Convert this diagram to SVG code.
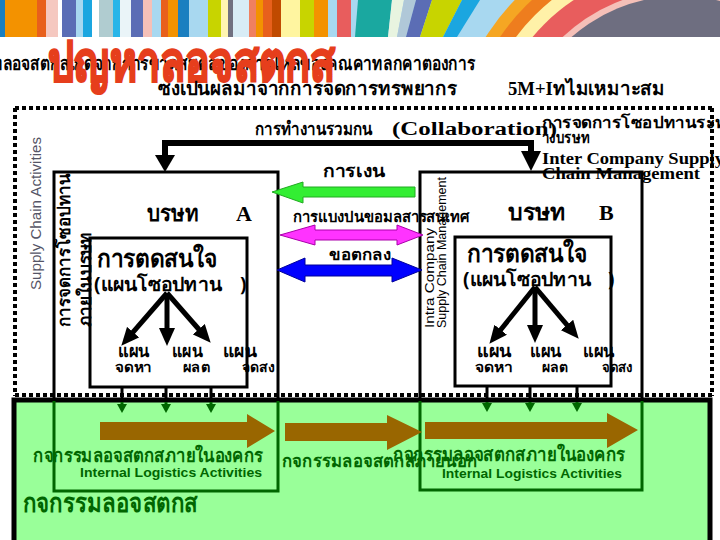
<svg xmlns="http://www.w3.org/2000/svg" width="720" height="540" viewBox="0 0 720 540">
<defs>
<style>
.th{font-family:'Noto Sans','DejaVu Sans',sans-serif;font-weight:bold;fill:#000}
.ser{font-family:'Liberation Serif','Times New Roman',serif;font-weight:bold;fill:#000}
.ar{font-family:'Liberation Sans',Arial,sans-serif}
.box{fill:none;stroke:#000;stroke-width:3}
.gbox{fill:none;stroke:#006600;stroke-width:3}
.gt{fill:#006600}
.fan{stroke:#000;stroke-width:5;fill:none;marker-end:url(#ah)}
.drop{stroke:#000;stroke-width:3}
.brown{fill:#996600}
.dots{stroke:#000;stroke-width:4;stroke-dasharray:4 3;fill:none}
</style>
<marker id="ah" viewBox="0 0 18 16" markerWidth="18" markerHeight="16" refX="7" refY="8" orient="auto" markerUnits="userSpaceOnUse">
<path d="M0,0 L18,8 L0,16 z" fill="#000"/>
</marker>
<clipPath id="bclip"><rect x="0" y="0" width="720" height="37"/></clipPath>
</defs>
<rect width="720" height="540" fill="#fff"/>

<g id="banner" clip-path="url(#bclip)">
<rect x="0" y="0" width="720" height="37" fill="#A8D8F0"/>
<rect x="0" y="0" width="5" height="37" fill="#1A7FC0"/>
<rect x="5" y="0" width="32" height="37" fill="#F39200"/>
<rect x="37" y="0" width="9" height="37" fill="#E8601C"/>
<rect x="46" y="0" width="12" height="37" fill="#F5C8C0"/>
<rect x="58" y="0" width="4" height="37" fill="#FFFFFF"/>
<rect x="62" y="0" width="14" height="37" fill="#5B6DB5"/>
<rect x="83" y="0" width="9" height="37" fill="#1BA6E0"/>
<rect x="92" y="0" width="7" height="37" fill="#FFFFFF"/>
<rect x="99" y="0" width="14" height="37" fill="#B0CCD0"/>
<rect x="113" y="0" width="7" height="37" fill="#29B5E8"/>
<rect x="120" y="0" width="11" height="37" fill="#EAF4F8"/>
<rect x="131" y="0" width="12" height="37" fill="#5B6DB5"/>
<rect x="143" y="0" width="9" height="37" fill="#F5C0B8"/>
<rect x="161" y="0" width="7" height="37" fill="#E8601C"/>
<rect x="168" y="0" width="10" height="37" fill="#F39200"/>
<rect x="178" y="0" width="11" height="37" fill="#1A7FC0"/>
<rect x="208" y="0" width="13" height="37" fill="#C8D400"/>
<rect x="221" y="0" width="7" height="37" fill="#FFF5B0"/>
<rect x="228" y="0" width="5" height="37" fill="#707080"/>
<rect x="233" y="0" width="16" height="37" fill="#D8ECF5"/>
<rect x="249" y="0" width="7" height="37" fill="#F08060"/>
<rect x="256" y="0" width="7" height="37" fill="#F39200"/>
<rect x="263" y="0" width="9" height="37" fill="#E8601C"/>
<rect x="272" y="0" width="9" height="37" fill="#C04A00"/>
<rect x="281" y="0" width="19" height="37" fill="#FFF5A0"/>
<rect x="300" y="0" width="14" height="37" fill="#C8D400"/>
<rect x="314" y="0" width="14" height="37" fill="#F39200"/>
<rect x="337" y="0" width="14" height="37" fill="#E85D5D"/>
<polygon points="355,37 388,37 392,0 358,0" fill="#1AA8A0"/>
<polygon points="388,37 397,37 404,0 392,0" fill="#E8F4E0"/>
<polygon points="397,37 406,37 416,0 404,0" fill="#B0C8D8"/>
<polygon points="406,37 420,37 432,0 416,0" fill="#5B6DB5"/>
<polygon points="420,37 443,37 462,0 432,0" fill="#C8D400"/>
<polygon points="443,37 457,37 480,0 462,0" fill="#1BA6E0"/>
<circle cx="680" cy="160" r="230" fill="#F5A623"/>
<circle cx="680" cy="160" r="218" fill="#EE7D1E"/>
<circle cx="680" cy="160" r="205" fill="#FFF1A8"/>
<circle cx="680" cy="160" r="192" fill="#E85D5D"/>
<circle cx="680" cy="160" r="170" fill="#F5C0B8"/>
<circle cx="680" cy="160" r="164" fill="#6E6E80"/>
</g>

<g id="heading">
<text class="th" x="-8" y="70" font-size="19" textLength="483" lengthAdjust="spacingAndGlyphs">ทลอจสตกสเกดจากการขาดสมดลของการไหลของคณคาทลกคาตองการ</text>
<text class="th" x="48" y="81" font-size="56" style="fill:#E63E1C" stroke="#E63E1C" stroke-width="2" textLength="287" lengthAdjust="spacingAndGlyphs">ปญหาลอจสตกส</text>
<text class="th" x="158" y="95" font-size="19" textLength="299" lengthAdjust="spacingAndGlyphs">ซงเปนผลมาจากการจดการทรพยากร</text>
<text class="th" x="508" y="95" font-size="19" textLength="157" lengthAdjust="spacingAndGlyphs"><tspan style="font-family:'Liberation Serif',serif">5M+I</tspan>ทไมเหมาะสม</text>
</g>

<g id="frame">
<line class="dots" x1="15" y1="108" x2="714" y2="108"/>
<line class="dots" x1="15" y1="108" x2="15" y2="396"/>
<line class="dots" x1="712" y1="108" x2="712" y2="396"/>
<line class="dots" x1="15" y1="395" x2="714" y2="395"/>
<rect x="14" y="400" width="696" height="150" fill="#99FF99" stroke="#000" stroke-width="5"/>
<text class="ar" x="0" y="0" font-size="14" fill="#555566" transform="translate(41,290) rotate(-90)" textLength="153" lengthAdjust="spacingAndGlyphs">Supply Chain Activities</text>
</g>

<g id="company-a">
<path class="box" d="M54,399 V172 H278 V399"/>
<path class="gbox" d="M54,401 V491 H278 V401"/>
<text class="th" font-size="17" transform="translate(70,327) rotate(-90)" textLength="154" lengthAdjust="spacingAndGlyphs">การจดการโซอปทาน</text>
<text class="th" font-size="17" transform="translate(91,327) rotate(-90)" textLength="94" lengthAdjust="spacingAndGlyphs">ภายในบรษท</text>
<text class="th" x="147" y="221" font-size="23" textLength="51" lengthAdjust="spacingAndGlyphs">บรษท</text>
<text class="ser" x="236" y="221" font-size="22">A</text>
<rect class="box" x="90" y="238" width="157" height="149"/>
<text class="th" x="97" y="267" font-size="25" textLength="121" lengthAdjust="spacingAndGlyphs">การตดสนใจ</text>
<text class="th" x="94" y="291" font-size="19"><tspan textLength="128" lengthAdjust="spacingAndGlyphs">(แผนโซอปทาน</tspan><tspan x="240">)</tspan></text>
<text class="th" x="118" y="357" font-size="17" textLength="32" lengthAdjust="spacingAndGlyphs">แผน</text>
<text class="th" x="115" y="372" font-size="14" textLength="37" lengthAdjust="spacingAndGlyphs">จดหา</text>
<text class="th" x="172" y="357" font-size="17" textLength="31" lengthAdjust="spacingAndGlyphs">แผน</text>
<text class="th" x="183" y="372" font-size="14" textLength="27" lengthAdjust="spacingAndGlyphs">ผลต</text>
<text class="th" x="223" y="357" font-size="17" textLength="34" lengthAdjust="spacingAndGlyphs">แผน</text>
<text class="th" x="242" y="372" font-size="14" textLength="33" lengthAdjust="spacingAndGlyphs">จดสง</text>
<text class="th gt" x="33" y="462" font-size="19" style="fill:#006600" textLength="230" lengthAdjust="spacingAndGlyphs">กจกรรมลอจสตกสภายในองคกร</text>
<text class="ar gt" x="80" y="477" font-size="13" font-weight="bold" textLength="182" lengthAdjust="spacingAndGlyphs">Internal Logistics Activities</text>
</g>

<g id="company-b">
<path class="box" d="M420,399 V172 H642 V399"/>
<path class="gbox" d="M420,401 V490 H642 V401"/>
<text class="ar" font-size="12" transform="translate(434,328) rotate(-90)" textLength="100" lengthAdjust="spacingAndGlyphs">Intra Company</text>
<text class="ar" font-size="12" transform="translate(446,328) rotate(-90)" textLength="151" lengthAdjust="spacingAndGlyphs">Supply Chain Management</text>
<text class="th" x="508" y="220" font-size="23" textLength="57" lengthAdjust="spacingAndGlyphs">บรษท</text>
<text class="ser" x="599" y="220" font-size="22">B</text>
<rect class="box" x="455" y="237" width="156" height="149"/>
<text class="th" x="467" y="262" font-size="25" textLength="121" lengthAdjust="spacingAndGlyphs">การตดสนใจ</text>
<text class="th" x="463" y="286" font-size="19"><tspan textLength="128" lengthAdjust="spacingAndGlyphs">(แผนโซอปทาน</tspan><tspan x="608">)</tspan></text>
<text class="th" x="477" y="357" font-size="17" textLength="35" lengthAdjust="spacingAndGlyphs">แผน</text>
<text class="th" x="475" y="372" font-size="14" textLength="38" lengthAdjust="spacingAndGlyphs">จดหา</text>
<text class="th" x="530" y="357" font-size="17" textLength="32" lengthAdjust="spacingAndGlyphs">แผน</text>
<text class="th" x="542" y="372" font-size="14" textLength="26" lengthAdjust="spacingAndGlyphs">ผลต</text>
<text class="th" x="583" y="357" font-size="17" textLength="32" lengthAdjust="spacingAndGlyphs">แผน</text>
<text class="th" x="602" y="372" font-size="14" textLength="31" lengthAdjust="spacingAndGlyphs">จดสง</text>
<text class="th gt" x="393" y="461" font-size="19" style="fill:#006600" textLength="232" lengthAdjust="spacingAndGlyphs">กจกรรมลอจสตกสภายในองคกร</text>
<text class="ar gt" x="442" y="478" font-size="13" font-weight="bold" textLength="180" lengthAdjust="spacingAndGlyphs">Internal Logistics Activities</text>
</g>

<g id="logistics-labels">
<text class="th gt" x="282" y="467" font-size="18" style="fill:#006600" textLength="195" lengthAdjust="spacingAndGlyphs">กจกรรมลอจสตกสภายนอก</text>
<text class="th gt" x="23" y="512" font-size="27" style="fill:#006600" textLength="174" lengthAdjust="spacingAndGlyphs">กจกรรมลอจสตกส</text>
</g>

<g id="connectors">
<path d="M165,155 V143 H531 V152" fill="none" stroke="#000" stroke-width="6"/>
<polygon points="155,155 175,155 165,172" fill="#000"/>
<polygon points="521,151 541,151 531,171" fill="#000"/>
<polygon points="272,192 303,182 303,187 415,187 415,197 303,197 303,203" fill="#33EE33" stroke="#22AA22" stroke-width="1"/>
<polygon points="280,235 315,225 315,230 397,230 397,225 423,235 397,245 397,240 315,240 315,245" fill="#FF33FF" stroke="#AA00AA" stroke-width="1"/>
<polygon points="277,270 305,258 305,265 392,265 392,258 422,270 392,282 392,276 305,276 305,282" fill="#0000FF" stroke="#000099" stroke-width="1"/>
<line class="fan" x1="167" y1="293" x2="128.5" y2="337.4"/>
<line class="fan" x1="167" y1="293" x2="167" y2="335"/>
<line class="fan" x1="167" y1="293" x2="203.4" y2="334.5"/>
<line class="fan" x1="535" y1="287" x2="496.3" y2="335.2"/>
<line class="fan" x1="535" y1="287" x2="535" y2="332"/>
<line class="fan" x1="535" y1="287" x2="571.6" y2="330.3"/>
<line class="drop" x1="122" y1="387" x2="122" y2="399"/>
<line class="drop" x1="166" y1="387" x2="166" y2="399"/>
<line class="drop" x1="211" y1="387" x2="211" y2="399"/>
<line class="drop" x1="487" y1="386" x2="487" y2="399"/>
<line class="drop" x1="530" y1="386" x2="530" y2="399"/>
<line class="drop" x1="577" y1="386" x2="577" y2="399"/>
<g stroke="#006600" stroke-width="3">
<line x1="122" y1="402" x2="122" y2="405"/>
<line x1="166" y1="402" x2="166" y2="405"/>
<line x1="211" y1="402" x2="211" y2="405"/>
<line x1="487" y1="402" x2="487" y2="405"/>
<line x1="530" y1="402" x2="530" y2="405"/>
<line x1="577" y1="402" x2="577" y2="405"/>
</g>
<g fill="#006600">
<polygon points="117,404 127,404 122,413"/>
<polygon points="161,404 171,404 166,413"/>
<polygon points="206,404 216,404 211,413"/>
<polygon points="482,403 492,403 487,412"/>
<polygon points="525,403 535,403 530,412"/>
<polygon points="572,403 582,403 577,412"/>
</g>
<polygon class="brown" points="100,422 247,422 247,414 275,431 247,448 247,440 100,440"/>
<polygon class="brown" points="285,423 387,423 387,415 422,432 387,450 387,441 285,441"/>
<polygon class="brown" points="425,422 607,422 607,413 638,430 607,448 607,439 425,439"/>
</g>

<g id="top-labels">
<text class="th" x="255" y="135" font-size="18" textLength="117" lengthAdjust="spacingAndGlyphs">การทำงานรวมกน</text>
<text class="ser" x="392" y="135" font-size="18" textLength="165" lengthAdjust="spacingAndGlyphs">(Collaboration)</text>
<text class="th" x="542" y="128" font-size="16" textLength="185" lengthAdjust="spacingAndGlyphs">การจดการโซอปทานระห</text>
<text class="th" x="542" y="143" font-size="16" textLength="48" lengthAdjust="spacingAndGlyphs">างบรษท</text>
<text class="ser" x="542" y="164" font-size="17" textLength="182" lengthAdjust="spacingAndGlyphs">Inter Company Supply</text>
<text class="ser" x="542" y="179" font-size="17" textLength="158" lengthAdjust="spacingAndGlyphs">Chain Management</text>
<text class="th" x="323" y="177" font-size="18" textLength="62" lengthAdjust="spacingAndGlyphs">การเงน</text>
<text class="th" x="293" y="222" font-size="15" textLength="177" lengthAdjust="spacingAndGlyphs">การแบงปนขอมลสารสนเทศ</text>
<text class="th" x="329" y="260" font-size="16" textLength="62" lengthAdjust="spacingAndGlyphs">ขอตกลง</text>
</g>
</svg>
